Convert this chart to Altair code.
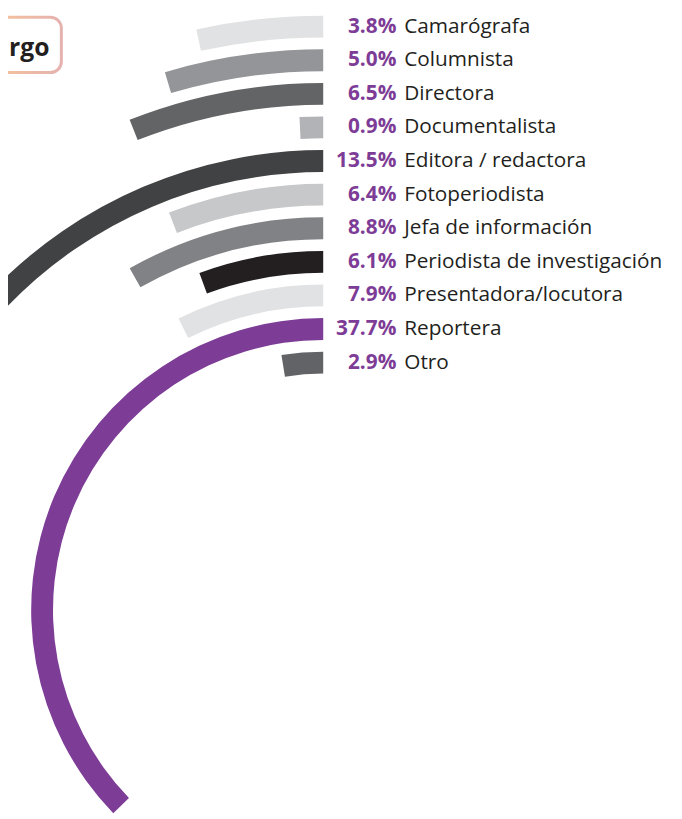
import math
import altair as alt
import pandas as pd

cats = ["Camarógrafa", "Columnista", "Directora", "Documentalista",
        "Editora / redactora", "Fotoperiodista", "Jefa de información",
        "Periodista de investigación", "Presentadora/locutora", "Reportera", "Otro"]
pcts = [3.8, 5.0, 6.5, 0.9, 13.5, 6.4, 8.8, 6.1, 7.9, 37.7, 2.9]
colors = ["#e1e2e3", "#939598", "#636466", "#b1b3b6", "#414244", "#c7c8ca",
          "#808285", "#231f20", "#e1e2e3", "#7d3c96", "#626366"]

df = pd.DataFrame({
    "idx": list(range(len(cats))),
    "cat": cats,
    "pct": pcts,
    "label": [f"{p:.1f}%" for p in pcts],
})

W, H = 674, 811
CX, CY = 319, 604.5
TWO_PI = 2 * math.pi
FONT = "Open Sans"
PURPLE = "#7d3c96"

theta_scale = alt.Scale(type="pow", exponent=1.04, domain=[0, 40],
                        range=[TWO_PI, TWO_PI - 2.488])
radius_scale = alt.Scale(type="linear", domain=[0, 10], range=[590.5, 250.5], zero=False)
y_scale = alt.Scale(type="linear", domain=[0, 10], range=[14, 354], zero=False)
color_scale = alt.Scale(domain=cats, range=colors)

arcs = alt.Chart(df).transform_calculate(
    r_out="datum.idx - 0.325", r_in="datum.idx + 0.325", zero="0"
).mark_arc().encode(
    x=alt.value(CX), y=alt.value(CY),
    theta=alt.Theta("pct:Q", scale=theta_scale, stack=False),
    theta2=alt.Theta2("zero:Q"),
    radius=alt.Radius("r_out:Q", scale=radius_scale),
    radius2=alt.Radius2("r_in:Q"),
    color=alt.Color("cat:N", scale=color_scale, legend=None),
)

pct_text = alt.Chart(df).mark_text(
    align="right", baseline="middle", font=FONT, fontSize=21,
    fontWeight="bold", color=PURPLE
).encode(
    x=alt.value(393),
    y=alt.Y("idx:Q", scale=y_scale, axis=None),
    text="label:N",
)

name_text = alt.Chart(df).mark_text(
    align="left", baseline="middle", font=FONT, fontSize=21, color="#231f20"
).encode(
    x=alt.value(401),
    y=alt.Y("idx:Q", scale=y_scale, axis=None),
    text="cat:N",
)

box_df = pd.DataFrame({"t": ["Cargo"]})
grad = alt.LinearGradient(
    gradient="linear", x1=0, y1=0, x2=1, y2=0,
    stops=[alt.GradientStop(color="#f7c99c", offset=0),
           alt.GradientStop(color="#f3c09e", offset=0.55),
           alt.GradientStop(color="#e5b2b0", offset=1)],
)
box = alt.Chart(box_df).mark_rect(
    fill="white", stroke=grad, strokeWidth=3, cornerRadius=11
).encode(
    x=alt.value(-70), x2=alt.value(54), y=alt.value(4.5), y2=alt.value(60.5)
)
box_text = alt.Chart(box_df).mark_text(
    align="right", baseline="alphabetic", font=FONT, fontSize=25,
    fontWeight="bold", color="#231f20"
).encode(x=alt.value(42), y=alt.value(44), text="t:N")

chart = alt.layer(box, box_text, arcs, pct_text, name_text).properties(
    width=W, height=H, padding=0, autosize=alt.AutoSizeParams(type="none"),
    background="white",
).configure_view(stroke=None)

chart.save("out.html", embed_options={"renderer": "svg", "actions": False})
